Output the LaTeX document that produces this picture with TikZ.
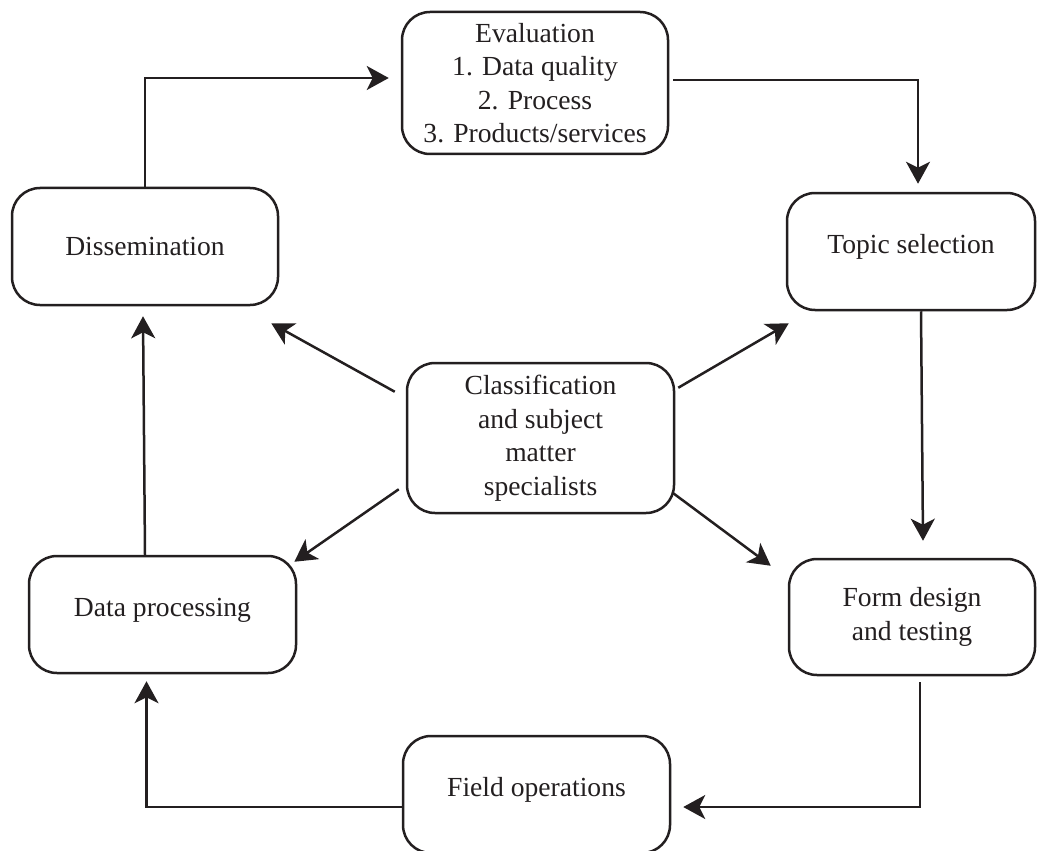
\documentclass[tikz,border=0pt]{standalone}
\usepackage{fontspec}
\setmainfont{Liberation Serif}
\usetikzlibrary{arrows.meta}
\definecolor{ink}{RGB}{35,31,32}
\begin{document}
\begin{tikzpicture}[x=0.5pt,y=-0.5pt,
  box/.style={draw=ink, text=ink, line width=1.25pt, rounded corners=14pt, inner sep=0pt, align=center,
              font=\fontsize{13.8pt}{16.75pt}\selectfont},
  one/.style={text height=9pt, text depth=6.8pt},
  arr/.style={draw=ink, line width=1.25pt, -{Stealth[length=11pt,width=12pt,inset=3pt]}}]
\useasboundingbox (0,0) rectangle (1047,850);
\node[box, minimum width=133pt, minimum height=71pt] (eval) at (535,83)
  {Evaluation\\1. Data quality\\2. Process\\3. Products/services};
\node[box, minimum width=133pt, minimum height=58.5pt] (diss) at (145,246.5) {Dissemination};
\node[box, one, minimum width=124pt, minimum height=58.5pt] (topic) at (911,251.5) {Topic selection};
\node[box, minimum width=133.5pt, minimum height=75pt] (class) at (540.5,438)
  {Classification\\and subject\\matter\\specialists};
\node[box, one, minimum width=133.5pt, minimum height=58.5pt] (dp) at (162.5,614.5) {Data processing};
\node[box, minimum width=123pt, minimum height=58pt] (form) at (912,617) {Form design\\and testing};
\node[box, one, minimum width=133.5pt, minimum height=58.5pt] (field) at (536.5,794.5) {Field operations};

\draw[arr] (diss.north) |- ([xshift=-6pt,yshift=2.5pt]eval.west);
\draw[arr] ([xshift=2pt,yshift=1.5pt]eval.east) -| ([xshift=3.5pt,yshift=4pt]topic.north);
\draw[arr] ([xshift=5pt]topic.south) -- ([xshift=5.5pt,yshift=8.5pt]form.north);
\draw[arr] ([xshift=4pt,yshift=-3pt]form.south) |- ([xshift=6pt,yshift=-6.25pt]field.east);
\draw[arr] ([yshift=-6.25pt]field.west) -| ([xshift=-8pt,yshift=-3.5pt]dp.south);
\draw[arr] ([xshift=-8.75pt]dp.north) -- ([xshift=-1pt,yshift=-5pt]diss.south);

\draw[arr] ([xshift=-5.5pt,yshift=-15pt]class.north west) -- ([xshift=-4pt,yshift=-8.5pt]diss.south east);
\draw[arr] ([xshift=1.5pt,yshift=-13pt]class.north east) -- ([xshift=1.5pt,yshift=-6pt]topic.south west);
\draw[arr] ([xshift=-3.5pt,yshift=12.5pt]class.south west) -- ([xshift=-1.5pt,yshift=-3.5pt]dp.north east);
\draw[arr] ([xshift=-1pt,yshift=10.5pt]class.south east) -- ([xshift=-8.5pt,yshift=-4pt]form.north west);
\end{tikzpicture}
\end{document}
